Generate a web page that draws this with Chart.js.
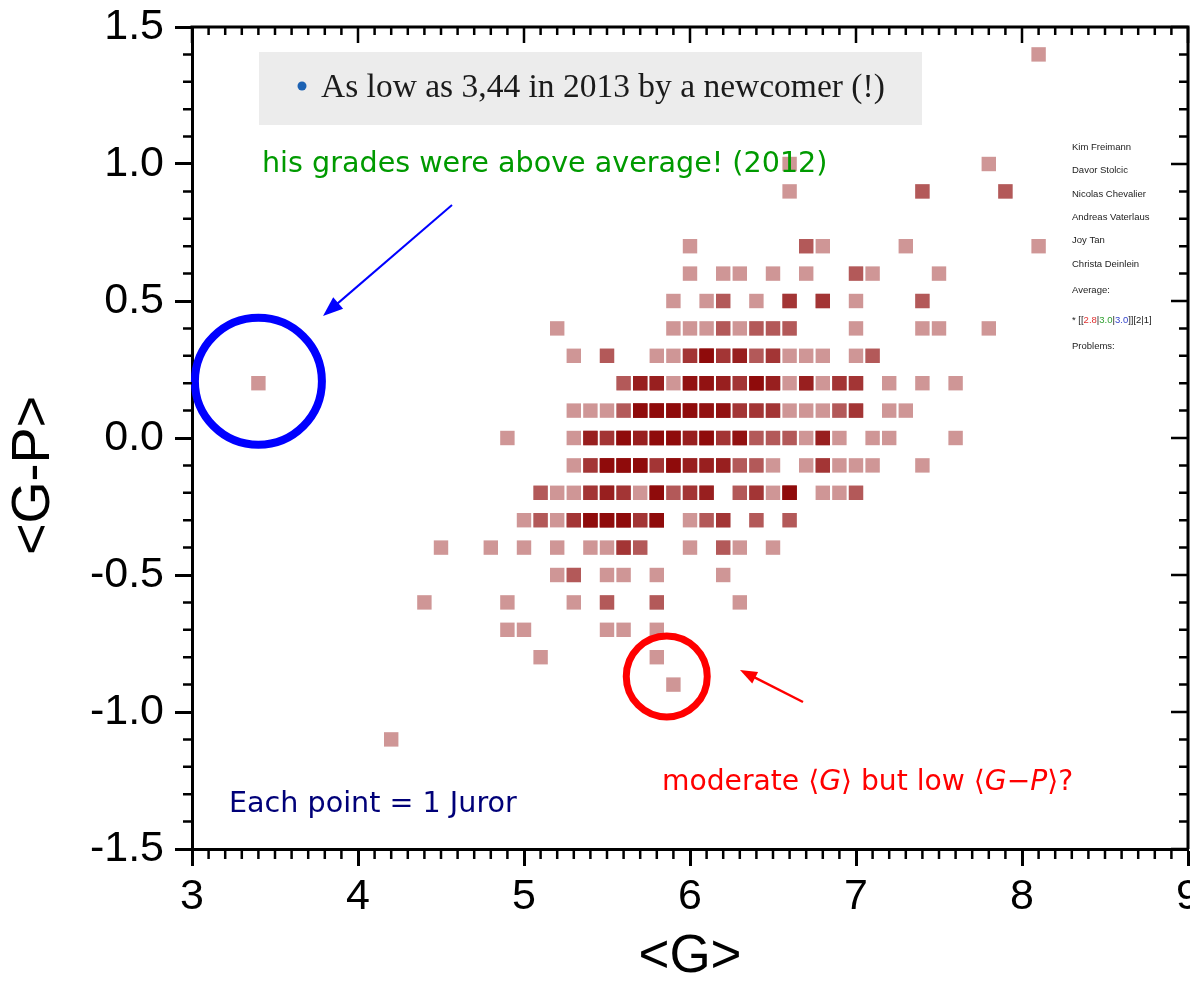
<!DOCTYPE html>
<html>
<head>
<meta charset="utf-8">
<title>Jury grades</title>
<script src="https://cdn.jsdelivr.net/npm/chart.js@4/dist/chart.umd.min.js"></script>
<style>
  html, body { margin: 0; padding: 0; background: #fff; }
  canvas { display: block; }
</style>
</head>
<body>
<canvas id="juryChart" width="1190" height="981"></canvas>
<script>
// one row per <G-P> value; meanG lists the <G> of the cells in that row,
// jurors says how many jurors sit on each cell (overlapping squares get darker)
var gpRows = [1.4, 1.0, 0.9, 0.7, 0.6, 0.5, 0.4, 0.3, 0.2, 0.1, 0.0,
              -0.1, -0.2, -0.3, -0.4, -0.5, -0.6, -0.7, -0.8, -0.9, -1.1]

var meanG = [
  [8.1],
  [6.6, 7.8],
  [6.6, 7.4, 7.9],
  [6.0, 6.7, 6.8, 7.3, 8.1],
  [6.0, 6.2, 6.3, 6.5, 6.7, 7.0, 7.1, 7.5],
  [5.9, 6.1, 6.2, 6.4, 6.6, 6.8, 7.0, 7.4],
  [5.2, 5.9, 6.0, 6.1, 6.2, 6.3, 6.4, 6.5, 6.6, 7.0, 7.4, 7.5, 7.8],
  [5.3, 5.5, 5.8, 5.9, 6.0, 6.1, 6.2, 6.3, 6.4, 6.5, 6.6, 6.7, 6.8, 7.0, 7.1],
  [3.4, 5.6, 5.7, 5.8, 5.9, 6.0, 6.1, 6.2, 6.3, 6.4, 6.5, 6.6, 6.7, 6.8, 6.9, 7.0, 7.2, 7.4, 7.6],
  [5.3, 5.4, 5.5, 5.6, 5.7, 5.8, 5.9, 6.0, 6.1, 6.2, 6.3, 6.4, 6.5, 6.6, 6.7, 6.8, 6.9, 7.0, 7.2, 7.3],
  [4.9, 5.3, 5.4, 5.5, 5.6, 5.7, 5.8, 5.9, 6.0, 6.1, 6.2, 6.3, 6.4, 6.5, 6.6, 6.7, 6.8, 6.9, 7.1, 7.2, 7.6],
  [5.3, 5.4, 5.5, 5.6, 5.7, 5.8, 5.9, 6.0, 6.1, 6.2, 6.3, 6.4, 6.5, 6.7, 6.8, 6.9, 7.0, 7.1, 7.4],
  [5.1, 5.2, 5.3, 5.4, 5.5, 5.6, 5.7, 5.8, 5.9, 6.0, 6.1, 6.3, 6.4, 6.5, 6.6, 6.8, 6.9, 7.0],
  [5.0, 5.1, 5.2, 5.3, 5.4, 5.5, 5.6, 5.7, 5.8, 6.0, 6.1, 6.2, 6.4, 6.6],
  [4.5, 4.8, 5.0, 5.2, 5.4, 5.5, 5.6, 5.7, 6.0, 6.2, 6.3, 6.5],
  [5.2, 5.3, 5.5, 5.6, 5.8, 6.2],
  [4.4, 4.9, 5.3, 5.5, 5.8, 6.3],
  [4.9, 5.0, 5.5, 5.6, 5.8],
  [5.1, 5.8],
  [5.9],
  [4.2]
]

var jurors = [
  [1],
  [1, 1],
  [1, 2, 2],
  [1, 2, 1, 1, 1],
  [1, 1, 1, 1, 1, 2, 1, 1],
  [1, 1, 2, 1, 3, 3, 1, 2],
  [1, 1, 1, 1, 2, 1, 2, 2, 2, 1, 1, 1, 1],
  [1, 2, 1, 1, 3, 6, 3, 4, 2, 3, 1, 1, 1, 1, 2],
  [1, 2, 4, 4, 1, 5, 5, 4, 3, 6, 4, 1, 4, 1, 3, 3, 1, 1, 1],
  [1, 1, 1, 2, 6, 6, 6, 6, 5, 5, 3, 3, 3, 1, 1, 1, 2, 3, 1, 1],
  [1, 1, 4, 3, 6, 4, 6, 6, 4, 6, 3, 5, 2, 2, 2, 1, 4, 1, 1, 1, 1],
  [1, 3, 6, 6, 6, 3, 6, 4, 4, 4, 2, 2, 1, 1, 3, 1, 1, 1, 1],
  [2, 1, 1, 3, 4, 3, 1, 6, 2, 3, 4, 2, 3, 1, 6, 1, 1, 2],
  [1, 2, 1, 3, 6, 6, 6, 3, 6, 1, 2, 3, 2, 2],
  [1, 1, 1, 1, 1, 1, 3, 2, 1, 2, 1, 1],
  [1, 2, 1, 1, 1, 1],
  [1, 1, 1, 2, 2, 1],
  [1, 1, 1, 1, 1],
  [1, 1],
  [1],
  [1]
]

var sidebarNames = ['Kim Freimann', 'Davor Stolcic', 'Nicolas Chevalier',
                    'Andreas Vaterlaus', 'Joy Tan', 'Christa Deinlein']

// every juror becomes one point
var points = []
for (var i = 0; i < gpRows.length; i++) {
  for (var j = 0; j < meanG[i].length; j++) {
    for (var k = 0; k < jurors[i][j]; k++) {
      points.push({x: meanG[i][j], y: gpRows[i]})
    }
  }
}

function arrow(ctx, x0, y0, x1, y1, color, width, head) {
  var a = Math.atan2(y1 - y0, x1 - x0)
  var c = Math.cos(a), s = Math.sin(a)
  ctx.strokeStyle = color
  ctx.fillStyle = color
  ctx.lineWidth = width
  ctx.beginPath()
  ctx.moveTo(x0, y0)
  ctx.lineTo(x1 - c * head * 0.7, y1 - s * head * 0.7)
  ctx.stroke()
  ctx.beginPath()
  ctx.moveTo(x1, y1)
  ctx.lineTo(x1 - c * head + s * head * 0.38, y1 - s * head - c * head * 0.38)
  ctx.lineTo(x1 - c * head - s * head * 0.38, y1 - s * head + c * head * 0.38)
  ctx.closePath()
  ctx.fill()
}

// draws a row of [text, font, color] pieces one after the other
function pieces(ctx, list, x, y) {
  list.forEach(function (p) {
    ctx.font = p[1]
    ctx.fillStyle = p[2]
    ctx.fillText(p[0], x, y)
    x += ctx.measureText(p[0]).width
  })
}

// top and right edges of the box plus the small 0.1 ticks
var frame = {
  id: 'frame',
  afterDraw: function (chart) {
    var ctx = chart.ctx, a = chart.chartArea
    var x = chart.scales.x, y = chart.scales.y
    ctx.save()
    ctx.strokeStyle = '#000'
    ctx.lineWidth = 3
    ctx.beginPath()
    ctx.moveTo(a.left - 1.5, a.top)
    ctx.lineTo(a.right + 1.5, a.top)
    ctx.moveTo(a.right, a.top)
    ctx.lineTo(a.right, a.bottom)
    ctx.stroke()

    ctx.lineWidth = 2.5
    ctx.beginPath()
    for (var i = 30; i <= 90; i++) {
      var px = x.getPixelForValue(i / 10)
      var major = i % 10 === 0
      ctx.moveTo(px, a.top)
      ctx.lineTo(px, a.top + (major ? 16 : 8))
      if (!major) {
        ctx.moveTo(px, a.bottom)
        ctx.lineTo(px, a.bottom + 10)
      }
    }
    for (var j = -15; j <= 15; j++) {
      var py = y.getPixelForValue(j / 10)
      var big = j % 5 === 0
      ctx.moveTo(a.right, py)
      ctx.lineTo(a.right - (big ? 17 : 9), py)
      if (!big) {
        ctx.moveTo(a.left, py)
        ctx.lineTo(a.left - 9, py)
      }
    }
    ctx.stroke()
    ctx.restore()
  }
}

var notes = {
  id: 'notes',
  afterDatasetsDraw: function (chart) {
    var ctx = chart.ctx
    var x = chart.scales.x, y = chart.scales.y
    ctx.save()
    ctx.textBaseline = 'alphabetic'
    ctx.textAlign = 'left'

    // pasted slide line
    ctx.fillStyle = '#ececec'
    ctx.fillRect(259, 52, 663, 73)
    ctx.fillStyle = '#1d62b3'
    ctx.beginPath()
    ctx.arc(302, 86, 4.5, 0, Math.PI * 2)
    ctx.fill()
    ctx.fillStyle = '#1b1b1b'
    ctx.font = '33.5px "Liberation Serif"'
    ctx.fillText('As low as 3,44 in 2013 by a newcomer (!)', 321, 97)

    ctx.font = '28.6px "DejaVu Sans"'
    ctx.fillStyle = '#009a00'
    ctx.fillText('his grades were above average! (2012)', 262, 172)

    ctx.fillStyle = '#000078'
    ctx.fillText('Each point = 1 Juror', 229, 812)

    // outlier at the left
    ctx.strokeStyle = '#0000ff'
    ctx.lineWidth = 8
    ctx.beginPath()
    ctx.arc(x.getPixelForValue(3.4), y.getPixelForValue(0.2) - 2, 63.5, 0, Math.PI * 2)
    ctx.stroke()
    arrow(ctx, 452, 205, 323, 316, '#0000ff', 2, 20)

    // low scorer at the bottom
    ctx.strokeStyle = '#ff0000'
    ctx.lineWidth = 7
    ctx.beginPath()
    ctx.arc(x.getPixelForValue(5.86), y.getPixelForValue(-0.87), 40.5, 0, Math.PI * 2)
    ctx.stroke()
    arrow(ctx, 803, 702, 740, 670, '#ff0000', 2.5, 17)

    var up = '28.2px "DejaVu Sans"', it = 'italic 28.2px "DejaVu Sans"'
    pieces(ctx, [
      ['moderate \u27E8', up, '#ff0000'],
      ['G', it, '#ff0000'],
      ['\u27E9 but low \u27E8', up, '#ff0000'],
      ['G\u2212P', it, '#ff0000'],
      ['\u27E9?', up, '#ff0000']
    ], 662, 790)

    // jury list on the right
    ctx.font = '9.5px Arial'
    ctx.fillStyle = '#222'
    var rows = [150, 173, 197, 220, 243, 267]
    sidebarNames.forEach(function (n, i) { ctx.fillText(n, 1072, rows[i]) })
    ctx.fillText('Average:', 1072, 293)
    var f = '9.5px Arial'
    pieces(ctx, [
      ['* [[', f, '#222'], ['2.8', f, '#e03030'], ['|', f, '#222'],
      ['3.0', f, '#30a030'], ['|', f, '#222'], ['3.0', f, '#3344cc'],
      [']][2|1]', f, '#222']
    ], 1072, 323)
    ctx.font = '9.5px Arial'
    ctx.fillStyle = '#222'
    ctx.fillText('Problems:', 1072, 349)
    ctx.restore()
  }
}

var ctx = document.getElementById('juryChart')

var chart = new Chart(ctx, {
  type: 'scatter',
  data: {
    datasets: [{
      label: 'Jurors',
      data: points,
      pointStyle: 'rect',
      pointRadius: 10.2,
      pointHoverRadius: 10.2,
      borderWidth: 0,
      backgroundColor: 'rgba(139,0,0,0.41)'
    }]
  },
  options: {
    responsive: false,
    animation: false,
    events: [],
    layout: { autoPadding: false, padding: { left: 0, top: 27, right: 2, bottom: 0 } },
    plugins: { legend: { display: false }, tooltip: { enabled: false } },
    scales: {
      x: {
        type: 'linear',
        min: 3,
        max: 9,
        afterFit: function (s) { s.height = 132; s.paddingLeft = 0; s.paddingRight = 0 },
        ticks: {
          stepSize: 1,
          maxRotation: 0,
          padding: 5,
          color: '#000',
          font: { family: 'Arial', size: 43 }
        },
        grid: { drawOnChartArea: false, tickLength: 17, tickWidth: 3, tickColor: '#000' },
        border: { color: '#000', width: 3 },
        title: {
          display: true,
          text: '<G>',
          color: '#000',
          padding: { top: 0, bottom: 2 },
          font: { family: 'Arial', size: 53, lineHeight: 0.8 }
        }
      },
      y: {
        min: -1.5,
        max: 1.5,
        afterFit: function (s) { s.width = 192; s.paddingTop = 0; s.paddingBottom = 0 },
        ticks: {
          stepSize: 0.5,
          padding: 11,
          color: '#000',
          font: { family: 'Arial', size: 43 },
          callback: function (v) { return v.toFixed(1) }
        },
        grid: { drawOnChartArea: false, tickLength: 17, tickWidth: 3, tickColor: '#000' },
        border: { color: '#000', width: 3 },
        title: {
          display: true,
          text: '<G-P>     ',
          color: '#000',
          padding: { top: 2, bottom: 0 },
          font: { family: 'Arial', size: 54 }
        }
      }
    }
  },
  plugins: [frame, notes]
})
</script>
</body>
</html>
